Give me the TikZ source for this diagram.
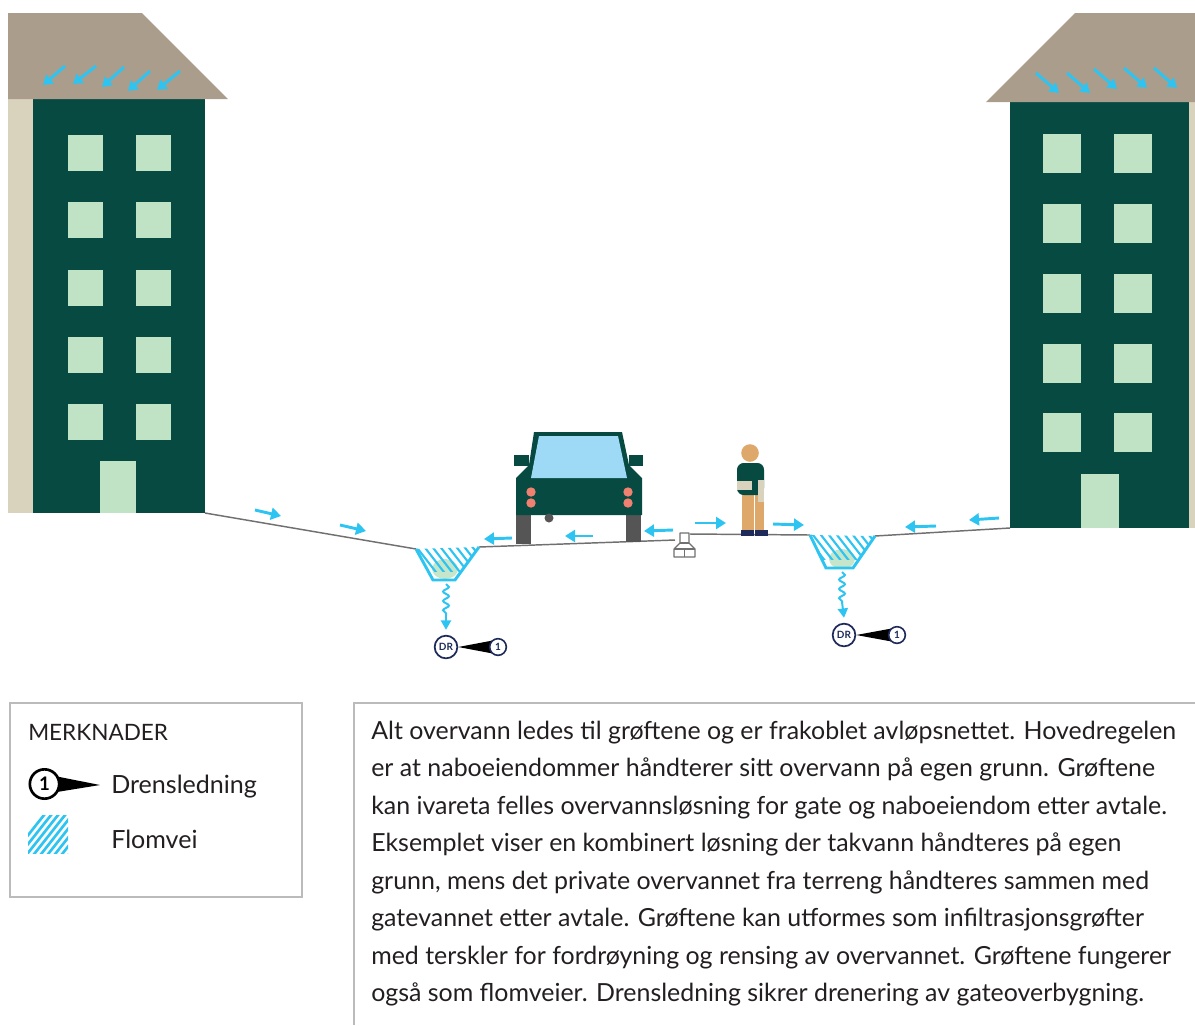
\documentclass[tikz,border=0pt]{standalone}
\usepackage{fontspec}
\setmainfont{Lato}
\usetikzlibrary{arrows.meta,decorations.pathmorphing,calc,backgrounds}

\definecolor{roof}{HTML}{AB9D8B}
\definecolor{wall}{HTML}{D9D2BC}
\definecolor{facade}{HTML}{064A42}
\definecolor{pane}{HTML}{BFE3C4}
\definecolor{water}{HTML}{2EC4F1}
\definecolor{terrain}{HTML}{707070}
\definecolor{glass}{HTML}{9ED9F5}
\definecolor{lamp}{HTML}{F08070}
\definecolor{tyre}{HTML}{555555}
\definecolor{skin}{HTML}{DDA86A}
\definecolor{navy}{HTML}{1E2A5A}
\definecolor{frame}{HTML}{BBBBBB}
\definecolor{txt}{HTML}{231F20}

\tikzset{
  flow/.style={draw=water, line width=2.2pt, -{Triangle[length=7.5pt,width=9pt]}},
  roofflow/.style={draw=water, line width=2.2pt, -{Triangle[length=7pt,width=8.5pt]}},
  ground/.style={draw=terrain, line width=1.1pt},
  ditchwall/.style={draw=water, line width=2.2pt, line join=miter},
  hatchline/.style={draw=water, line width=1.6pt},
  seep/.style={draw=water, line width=1.5pt},
  window/.style={fill=pane},
  drnode/.style={circle, draw=navy, fill=white, line width=1.3pt, minimum size=17pt,
    inner sep=0pt, font=\fontsize{7.5}{8}\selectfont\bfseries, text=navy},
  numnode/.style={circle, draw=navy, fill=white, line width=1.2pt, minimum size=12.5pt,
    inner sep=0pt, font=\fontsize{7.5}{8}\selectfont\bfseries, text=navy},
  bodytext/.style={anchor=base west, inner sep=0pt, text=txt, font=\fontsize{18.7}{21}\selectfont},
  frameline/.style={draw=frame, line width=1.5pt},
}

\begin{document}
\begin{tikzpicture}[x=0.75pt,y=-0.75pt]
\useasboundingbox (0,0) rectangle (1195,1025);

% ---------- left building ----------
\fill[wall] (8,98) rectangle (33,513);
\fill[facade] (33,98) rectangle (205,513);
\fill[roof] (8,13) -- (142,13) -- (228,99) -- (8,99) -- cycle;
\foreach \y in {135,202,270,337,404}{
  \fill[window] (68,\y) rectangle ++(35,36);
  \fill[window] (136,\y) rectangle ++(35,36);
}
\fill[window] (100,461) rectangle (136,513);
\foreach \xa/\ya/\xb/\yb in {65/66/43/85, 96/66/73/84, 124/67/102/87, 150/71/128/91, 180/71/157/90}
  \draw[roofflow] (\xa,\ya) -- (\xb,\yb);

% ---------- right building ----------
\fill[wall] (1189,101) rectangle (1195,528);
\fill[facade] (1010,101) rectangle (1189,528);
\fill[roof] (986,102) -- (1075,13) -- (1195,13) -- (1195,102) -- cycle;
\foreach \y in {134,204,274,344,413}{
  \fill[window] (1043,\y) rectangle ++(38,39);
  \fill[window] (1114,\y) rectangle ++(38,39);
}
\fill[window] (1081,474) rectangle (1119,528);
\foreach \xa/\ya/\xb/\yb in {1036/73/1059/93, 1067/73/1090/93, 1094/69/1117/89, 1124/68/1147/88, 1154/68/1177/88}
  \draw[roofflow] (\xa,\ya) -- (\xb,\yb);

% ---------- terrain and road surface ----------
\draw[ground] (205,513) -- (416,549);
\draw[ground] (479,547) -- (675,540);
\draw[ground] (690,534) -- (810,535);
\draw[ground] (875,536) -- (1010,528);

% ---------- ditches ----------
% left ditch
\fill[pane, opacity=0.9] (445,569) ellipse (13 and 10);
\begin{scope}
  \clip (416,549) -- (433,580) -- (455,580) -- (479,547) -- cycle;
  \clip (400,540) rectangle (500,571);
  \foreach \k in {0,...,11}
    \draw[hatchline] (395+8*\k,540) -- ++(28,36);
\end{scope}
\draw[ditchwall] (416,549) -- (433,580) -- (455,580) -- (479,547);
% right ditch
\fill[pane, opacity=0.9] (842,559) ellipse (13 and 10);
\begin{scope}
  \clip (810,535) -- (826,568) -- (853,568) -- (875,536) -- cycle;
  \clip (800,526) rectangle (900,559);
  \foreach \k in {0,...,11}
    \draw[hatchline] (790+8*\k,526) -- ++(28,36);
\end{scope}
\draw[ditchwall] (810,535) -- (826,568) -- (853,568) -- (875,536);

% ---------- gully ----------
\draw[draw=terrain, line width=0.9pt, fill=white, line join=round]
  (680,533) -- (680,543) -- (674,549) -- (674,557) -- (695,557) -- (695,549) -- (689,543) -- (689,533) -- cycle;
\draw[draw=terrain, line width=0.9pt] (674,549) -- (695,549) (684.5,549) -- (684.5,557) (680,543) -- (689,543);

% ---------- drains ----------
\node[drnode] (drA) at (446,647) {DR};
\node[numnode] (pipeA) at (498,647) {1};
\node[drnode] (drB) at (844,635) {DR};
\node[numnode] (pipeB) at (897,635) {1};
\begin{scope}[on background layer]
  \fill[black] (drA.east) -- ($(pipeA.center)+(0,-7.5)$) -- ($(pipeA.center)+(0,7.5)$) -- cycle;
  \fill[black] (drB.east) -- ($(pipeB.center)+(0,-7.5)$) -- ($(pipeB.center)+(0,7.5)$) -- cycle;
\end{scope}
\coordinate (outA) at (446,584);
\coordinate (outB) at (842,572);
\draw[seep, decorate, decoration={snake, amplitude=2.2pt, segment length=7pt}] (outA) -- (446,615);
\draw[seep, -{Triangle[length=7pt,width=7.5pt]}] (446,614) -- ($(drA.north)+(0,-5)$);
\draw[seep, decorate, decoration={snake, amplitude=2.2pt, segment length=7pt}] (outB) -- (842,603);
\draw[seep, -{Triangle[length=7pt,width=7.5pt]}] (842,602) -- ($(drB.north)+(0,-5)$);

% ---------- flow arrows on the surface ----------
\draw[flow] (255,510) -- (281,516);
\draw[flow] (340,525) -- (366,531);
\draw[flow] (512,538) -- (484,539);
\draw[flow] (593,536) -- (565,536);
\draw[flow] (673,530) -- (644,531);
\draw[flow] (695,523) -- (726,523);
\draw[flow] (773,524) -- (804,525);
\draw[flow] (936,526) -- (905,527);
\draw[flow] (999,518) -- (969,520);

% ---------- car ----------
\fill[tyre] (516,512) rectangle (531,544);
\fill[tyre] (626,512) rectangle (641,542);
\fill[facade] (514,455) rectangle (529,466);
\fill[facade] (629,455) rectangle (643,466);
\fill[facade] (534,432) -- (622,432) -- (629,465) -- (642,478) -- (642,515)
  -- (516,515) -- (516,478) -- (529,465) -- cycle;
\fill[glass] (539,436) -- (618,436) -- (627,478) -- (531,478) -- cycle;
\foreach \cx in {531,628}{
  \fill[lamp] (\cx,492) circle (4.7);
  \fill[lamp] (\cx,503) circle (4.7);
}
\fill[tyre] (549,518) circle (4.5);

% ---------- pedestrian ----------
\fill[skin] (750,453) circle (8.8);
\fill[skin] (742,492) rectangle (754,531);
\fill[skin] (755,492) rectangle (764,531);
\fill[facade, rounded corners=5] (737,495) -- (737,463) -- (764,463) -- (764,495) -- cycle;
\fill[wall] (737,481) rectangle (752,490);
\fill[wall] (758,480) rectangle (764,502);
\fill[navy] (741,530) rectangle (754,536);
\fill[navy] (755,530) rectangle (768,536);

% ---------- legend ----------
\draw[frameline] (10,703) rectangle (302,897);
\node[anchor=base west, inner sep=0pt, text=txt, font=\fontsize{16.9}{19}\selectfont] (legtitle) at (28,740) {MERKNADER};
\node[circle, draw=black, fill=white, line width=2pt, minimum size=22pt, inner sep=0pt,
  font=\fontsize{14}{15}\selectfont\bfseries] (legpipe) at (44.5,784) {1};
\coordinate (legtip) at (100,785);
\begin{scope}[on background layer]
  \fill[black] ($(legpipe.center)+(0,-10)$) -- (legtip) -- ($(legpipe.center)+(0,10)$) -- cycle;
\end{scope}
\node[anchor=base west, inner sep=0pt, text=txt, font=\fontsize{18.8}{21}\selectfont] (legpipetext) at (111,793) {Drensledning};
\begin{scope}
  \clip (28,815) rectangle (68,853);
  \foreach \k in {0,...,12}
    \draw[hatchline, line width=2pt] (10+7*\k,858) -- ++(38,-48);
\end{scope}
\node[anchor=base west, inner sep=0pt, text=txt, font=\fontsize{18.8}{21}\selectfont] (legflowtext) at (111,848) {Flomvei};

% ---------- description ----------
\draw[frameline] (1195,703) -- (354,703) -- (354,1025);
\foreach \line [count=\i] in {
  {Alt overvann ledes til grøftene og er frakoblet avløpsnettet. Hovedregelen},
  {er at naboeiendommer håndterer sitt overvann på egen grunn. Grøftene},
  {kan ivareta felles overvannsløsning for gate og naboeiendom etter avtale.},
  {Eksemplet viser en kombinert løsning der takvann håndteres på egen},
  {grunn, mens det private overvannet fra terreng håndteres sammen med},
  {gatevannet etter avtale. Grøftene kan utformes som infiltrasjonsgrøfter},
  {med terskler for fordrøyning og rensing av overvannet. Grøftene fungerer},
  {også som flomveier. Drensledning sikrer drenering av gateoverbygning.}}
  \node[bodytext] (desc\i) at (371,{739+37.5*(\i-1)}) {\line};

\end{tikzpicture}
\end{document}
